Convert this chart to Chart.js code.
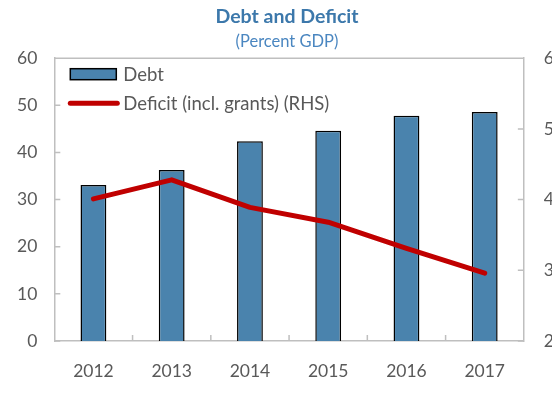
<!DOCTYPE html>
<html>
<head>
<meta charset="utf-8">
<script src="https://cdn.jsdelivr.net/npm/chart.js@4.4.1/dist/chart.umd.min.js"></script>
<style>
    html, body { margin: 0; padding: 0; background: #fff; overflow: hidden; }
    #wrap { width: 552px; height: 402px; position: relative; overflow: hidden; }
    #chart { display: block; width: 552px; height: 402px; }
</style>
</head>
<body>
<div id="wrap"><canvas id="chart" width="552" height="402"></canvas></div>
<script>
const years = ['2012', '2013', '2014', '2015', '2016', '2017'];
const debt = [33.1, 36.3, 42.4, 44.6, 47.8, 48.6];      // left axis
const deficit = [4.01, 4.28, 3.89, 3.68, 3.31, 2.96];   // right axis (RHS)

const FONT = 'Lato, "Open Sans", sans-serif';
const GREY = '#bfbfbf';
const TEXT = '#595959';

// small inward tick marks + top border of the plot box
const boxTicks = {
    id: 'boxTicks',
    beforeDatasetsDraw(chart) {
        const { ctx, chartArea: a, scales } = chart;
        const len = 6;
        ctx.save();
        ctx.strokeStyle = GREY;
        ctx.lineWidth = 1.5;
        ctx.beginPath();
        ctx.moveTo(a.left, a.top);
        ctx.lineTo(a.right, a.top);
        for (let i = 1; i < years.length; i++) {
            const x = (scales.x.getPixelForValue(i - 1) + scales.x.getPixelForValue(i)) / 2;
            ctx.moveTo(x, a.bottom);
            ctx.lineTo(x, a.bottom - len);
        }
        scales.y.ticks.forEach((t) => {
            const y = scales.y.getPixelForValue(t.value);
            ctx.moveTo(a.left, y);
            ctx.lineTo(a.left + len, y);
        });
        scales.y1.ticks.forEach((t) => {
            const y = scales.y1.getPixelForValue(t.value);
            ctx.moveTo(a.right, y);
            ctx.lineTo(a.right - len, y);
        });
        ctx.stroke();
        ctx.restore();
    }
};

// legend drawn inside the plot, top-left, stacked
const innerLegend = {
    id: 'innerLegend',
    afterDatasetsDraw(chart) {
        const { ctx, chartArea: a } = chart;
        const bar = chart.data.datasets[0];
        const line = chart.data.datasets[1];
        const x = a.left + 16;
        const y1 = a.top + 16;
        const y2 = a.top + 45;
        ctx.save();
        ctx.fillStyle = bar.backgroundColor;
        ctx.fillRect(x, y1 - 5.5, 46, 11);
        ctx.strokeStyle = '#000';
        ctx.lineWidth = 1.5;
        ctx.strokeRect(x, y1 - 5.5, 46, 11);

        ctx.strokeStyle = line.borderColor;
        ctx.lineWidth = 5;
        ctx.lineCap = 'round';
        ctx.beginPath();
        ctx.moveTo(x, y2);
        ctx.lineTo(x + 47, y2);
        ctx.stroke();

        ctx.fillStyle = TEXT;
        ctx.font = '18.5px ' + FONT;
        ctx.textBaseline = 'middle';
        ctx.fillText(bar.label, x + 53, y1 + 1);
        ctx.fillText(line.label, x + 53, y2 + 1);
        ctx.restore();
    }
};

new Chart(document.getElementById('chart'), {
    type: 'bar',
    data: {
        labels: years,
        datasets: [
            {
                type: 'bar',
                label: 'Debt',
                data: debt,
                yAxisID: 'y',
                backgroundColor: '#4a83ad',
                borderColor: '#000000',
                borderWidth: 1.5,
                barPercentage: 0.33,
                categoryPercentage: 1,
                order: 2,
            },
            {
                type: 'line',
                label: 'Deficit (incl. grants) (RHS)',
                data: deficit,
                yAxisID: 'y1',
                borderColor: '#c00000',
                backgroundColor: '#c00000',
                borderWidth: 5,
                borderCapStyle: 'round',
                borderJoinStyle: 'round',
                pointRadius: 0,
                tension: 0,
                order: 1,
            },
        ],
    },
    plugins: [boxTicks, innerLegend],
    options: {
        responsive: false,
        animation: false,
        // right side deliberately runs past the canvas edge so the RHS labels get cut
        layout: { padding: { left: 0, right: -22, bottom: 0 } },
        scales: {
            x: {
                grid: { display: false, drawTicks: false },
                border: { color: GREY, width: 1.5 },
                ticks: { color: TEXT, font: { family: FONT, size: 17.5 }, padding: 20 },
            },
            y: {
                position: 'left',
                min: 0,
                max: 60,
                grid: { display: false, drawTicks: false },
                border: { color: GREY, width: 1.5 },
                ticks: { stepSize: 10, color: TEXT, font: { family: FONT, size: 17.5 }, padding: 17 },
            },
            y1: {
                position: 'right',
                min: 2,
                max: 6,
                grid: { display: false, drawTicks: false },
                border: { color: GREY, width: 1.5 },
                ticks: { stepSize: 1, color: TEXT, font: { family: FONT, size: 17.5 }, padding: 20 },
            },
        },
        plugins: {
            title: {
                display: true,
                text: 'Debt and Deficit',
                color: '#3c78ab',
                font: { family: FONT, size: 19.5, weight: 'bold' },
                padding: { top: 5, bottom: 3 },
            },
            subtitle: {
                display: true,
                text: '(Percent GDP)',
                color: '#4a86c0',
                font: { family: FONT, size: 16.5 },
                padding: { bottom: 7 },
            },
            legend: { display: false },
            tooltip: { enabled: false },
        },
    },
});
</script>
</body>
</html>
